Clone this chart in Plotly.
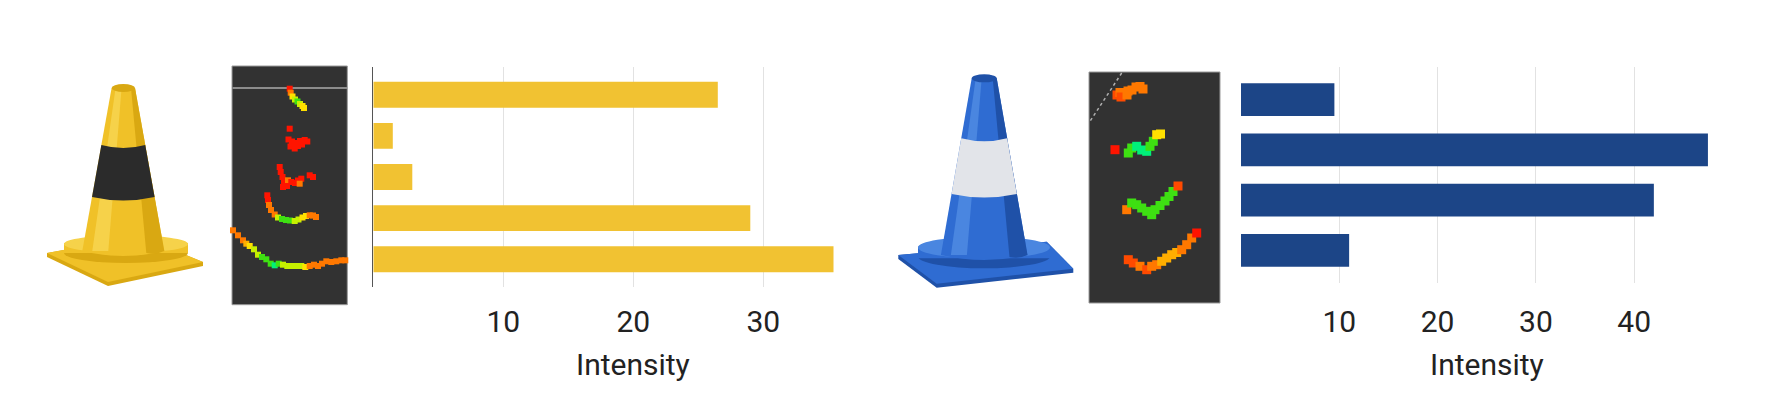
import plotly.graph_objects as go

# page is photographed at 1782x418; the body keeps its default 8px margin
PAGE_W = 1782
OX, OY = 8, 8
FIG_W = PAGE_W - 2 * OX
FIG_H = 384 - OY

# bar data
yellow_values = [26.5, 1.5, 3.0, 29.0, 35.4]
blue_values = [9.5, 47.5, 42.0, 11.0]
yellow_ticks = [10, 20, 30]
blue_ticks = [10, 20, 30, 40]
axis_title = "Intensity"

# radar point clouds (pixel coords of the page)
R, RO, O, YO, Y, YG, G, CG = ("#ff1400", "#ff4a00", "#ff7800", "#ffae00",
                              "#ffe000", "#c6f000", "#3ee012", "#00f07a")

yellow_radar_x = [289.7, 290.7, 292.5, 295, 297.5, 300, 302.5, 304,
                  289.7, 288.5, 292, 296, 300, 304.7, 307.3, 290.5, 294.7, 298, 302,
                  279.7, 280.7, 282.5, 284, 288, 291.3, 295, 298, 301.3, 309.7, 313, 283, 287, 299.7,
                  267.3, 268, 269, 271, 274.7, 278, 282, 286, 290, 294.7, 298.5, 302.5, 306, 309.7, 313, 316,
                  233, 238, 243, 246.3, 249.7, 254, 258, 262, 266.3, 270.7, 274.7, 278.7, 283, 287.3,
                  292, 296.7, 301.3, 305.3, 309.7, 314, 318, 322, 326.3, 331.3, 336.3, 341.3, 345.3]
yellow_radar_y = [88.7, 92.7, 96.5, 99.5, 101.5, 104, 106, 108,
                  128.7, 139.5, 141.5, 143, 141, 140, 141.5, 146.5, 148.5, 146, 144.5,
                  167, 172, 177, 182, 180.3, 182, 183, 180.5, 178.7, 175.3, 177, 187, 186, 183.7,
                  195.3, 200, 205, 210, 214.5, 217.5, 219, 220, 220.5, 221, 219.5, 217.5, 216, 215.3, 215.5, 217,
                  230.3, 235.3, 240.3, 243.7, 246, 249.3, 254.7, 257, 259.3, 263.7, 265.3, 263.7, 264.7, 266,
                  266, 266, 266, 267, 266, 264.7, 266, 263.7, 261.3, 262, 261.3, 260.3, 260.3]
yellow_radar_c = [R, O, Y, YG, G, YG, Y, Y,
                  R, R, R, R, R, R, R, R, R, R, R,
                  R, R, R, R, O, R, R, R, R, R, R, R, R, O,
                  R, R, O, O, O, YG, G, G, G, YG, YG, Y, Y, O, O, O,
                  O, O, O, YO, Y, YG, YG, G, G, G, CG, G, YG, YG,
                  YG, YG, YG, Y, O, O, O, O, O, O, O, O, O]

blue_radar_x = [1117, 1120, 1124, 1128, 1132, 1136, 1140, 1143, 1121, 1127,
                1115, 1128.3, 1131.7, 1136.7, 1141.7, 1146.7, 1150, 1153.3, 1156.7, 1160.5,
                1126.7, 1131.7, 1136.7, 1141.7, 1146.7, 1151.7, 1155, 1160, 1165, 1169, 1173, 1178,
                1128.3, 1133.3, 1140, 1146.7, 1151.7, 1156.7, 1161.7, 1166.7, 1171.7, 1176.7,
                1181.7, 1186.7, 1191.7, 1196.7]
blue_radar_y = [95, 92.5, 94, 91, 90, 87, 86.5, 89, 97, 95,
                149.7, 153, 148, 146.3, 150, 151.3, 146.3, 141.3, 134.7, 134,
                209.7, 203, 204.7, 208, 211.3, 214.7, 209.7, 205.5, 201, 196.5, 191.5, 186,
                259.7, 263, 266.3, 269.7, 266.3, 264.7, 261.3, 258, 254.7, 252.5,
                249.7, 244.7, 238, 233]
blue_radar_c = [RO, O, O, O, O, O, O, O, RO, O,
                R, G, G, CG, CG, CG, G, G, Y, Y,
                O, G, G, G, G, G, G, G, G, G, G, RO,
                RO, RO, O, RO, O, O, YO, YO, YO, YO,
                O, O, O, R]


def paper_x(gx):
    return (gx - OX) / FIG_W


def paper_y(gy):
    return 1 - (gy - OY) / FIG_H


fig = go.Figure()

fig.add_trace(go.Bar(x=yellow_values, y=list(range(len(yellow_values))), orientation="h",
                     marker=dict(color="#f1c232", line=dict(width=0)), width=0.63,
                     xaxis="x", yaxis="y", hoverinfo="x"))
fig.add_trace(go.Bar(x=blue_values, y=list(range(len(blue_values))), orientation="h",
                     marker=dict(color="#1c4587", line=dict(width=0)), width=0.65,
                     xaxis="x2", yaxis="y2", hoverinfo="x"))
fig.add_trace(go.Scatter(x=yellow_radar_x, y=yellow_radar_y, mode="markers",
                         marker=dict(symbol="square", size=6, color=yellow_radar_c, line=dict(width=0)),
                         xaxis="x3", yaxis="y3", hoverinfo="skip"))
fig.add_trace(go.Scatter(x=blue_radar_x, y=blue_radar_y, mode="markers",
                         marker=dict(symbol="square", size=9, color=blue_radar_c, line=dict(width=0)),
                         xaxis="x3", yaxis="y3", hoverinfo="skip"))

tick_font = dict(family="Roboto", size=30, color="#222222")
bar_x = dict(range=[0, 40], showgrid=True, gridcolor="#e2e2e2", gridwidth=1, zeroline=False,
             showline=False, ticks="", tickfont=tick_font, ticklabelstandoff=14, fixedrange=True)
bar_y = dict(showgrid=False, zeroline=False, showline=True, linecolor="#555555", linewidth=1,
             showticklabels=False, ticks="", fixedrange=True)

left_dom = [paper_x(373.3), paper_x(373.3 + 40 * 13.0)]
right_dom = [paper_x(1241), paper_x(1241 + 50 * 9.83)]

fig.update_layout(
    width=FIG_W, height=FIG_H, autosize=False,
    margin=dict(l=0, r=0, t=0, b=0),
    paper_bgcolor="white", plot_bgcolor="rgba(0,0,0,0)",
    showlegend=False, font=dict(family="Roboto"),
    xaxis=dict(bar_x, domain=left_dom, tickvals=yellow_ticks),
    yaxis=dict(bar_y, domain=[paper_y(287), paper_y(67)], range=[4.676, -0.676]),
    xaxis2=dict(bar_x, domain=right_dom, range=[0, 50], tickvals=blue_ticks),
    yaxis2=dict(bar_y, domain=[paper_y(283.3), paper_y(66.7)], range=[3.657, -0.657]),
    xaxis3=dict(domain=[0, 1], range=[OX, OX + FIG_W], visible=False, fixedrange=True),
    yaxis3=dict(domain=[0, 1], range=[OY + FIG_H, OY], visible=False, fixedrange=True),
)

# axis titles as annotations, placed low like in the cropped original
for dom in (left_dom, right_dom):
    fig.add_annotation(text=axis_title, xref="paper", yref="paper", x=(dom[0] + dom[1]) / 2,
                       y=paper_y(364), xanchor="center", yanchor="middle", showarrow=False,
                       font=tick_font)

shapes = []


def path(d, fill, line_color=None, width=0):
    shapes.append(dict(type="path", path=d, xref="x3", yref="y3", layer="below",
                       fillcolor=fill, line=dict(color=line_color or fill, width=width)))


def oval(x0, y0, x1, y1, fill):
    shapes.append(dict(type="circle", x0=x0, y0=y0, x1=x1, y1=y1, xref="x3", yref="y3",
                       layer="below", fillcolor=fill, line=dict(width=0)))


def cone(cx_top, top, bottom, half_top, half_bottom, band, base, ring, main, light, dark, band_col):
    # base plate
    b = base
    path("M %s,%s L %s,%s L %s,%s L %s,%s L %s,%s L %s,%s Z" % (
        b[0][0], b[0][1], b[1][0], b[1][1], b[2][0], b[2][1], b[2][0], b[2][1] + 4,
        b[3][0], b[3][1] + 4, b[0][0], b[0][1] + 4), dark)
    path("M %s,%s L %s,%s L %s,%s L %s,%s Z" % (
        b[0][0], b[0][1], b[1][0], b[1][1], b[2][0], b[2][1], b[3][0], b[3][1]), main)
    # ring around the foot
    rx0, rx1, ry0, ry1 = ring
    oval(rx0, ry0 + 8, rx1, ry1, dark)
    shapes.append(dict(type="rect", x0=rx0, x1=rx1, y0=(ry0 + ry1) / 2 - 6, y1=ry1 - 10,
                       xref="x3", yref="y3", layer="below", fillcolor=main, line=dict(width=0)))
    oval(rx0, ry0, rx1, ry1 - 10, light)
    # body
    lt, rt = cx_top - half_top, cx_top + half_top
    lb, rb = cx_top - half_bottom, cx_top + half_bottom
    path("M %s,%s L %s,%s L %s,%s Q %s,%s %s,%s Z" % (lt, top, rt, top, rb, bottom,
                                                    cx_top, bottom + 10, lb, bottom), main)
    path("M %s,%s L %s,%s L %s,%s Q %s,%s %s,%s Z" % (rt - 4, top, rt, top, rb, bottom,
                                                    rb - 8, bottom + 4, rb - 18, bottom + 2), dark)
    path("M %s,%s L %s,%s L %s,%s L %s,%s Z" % (lt + 4, top, lt + 10, top,
                                                lb + 26, bottom, lb + 10, bottom), light)

    def edge(y):
        f = (y - top) / (bottom - top)
        return lt + (lb - lt) * f, rt + (rb - rt) * f

    b0, b1 = band
    l0, r0 = edge(b0)
    l1, r1 = edge(b1)
    path("M %s,%s Q %s,%s %s,%s L %s,%s Q %s,%s %s,%s Z" % (
        l0, b0, cx_top, b0 + 6, r0, b0, r1, b1, cx_top, b1 + 7, l1, b1), band_col)
    oval(lt, top - 4, rt, top + 4, dark)


cone(123.3, 88, 251, 11.7, 41, (145, 197), [(47, 253), (140, 236), (203, 262), (108, 282)],
     (64, 188, 235, 263), "#f0c128", "#f6d24a", "#d9a812", "#2b2b2b")
cone(984.2, 78.3, 255, 12.5, 43.3, (138.3, 194), [(898.3, 255), (1046.7, 241.7), (1073.3, 268.7),
                                                   (936.7, 283.7)],
     (918, 1050, 236.7, 268.3), "#2f6cd2", "#4a86e0", "#1f51a8", "#e2e4e9")

# radar panels
shapes.append(dict(type="rect", x0=232, x1=347.3, y0=66, y1=304.7, xref="x3", yref="y3",
                   layer="below", fillcolor="#323232", line=dict(color="#9a9a9a", width=1)))
shapes.append(dict(type="line", x0=232.5, x1=347, y0=88, y1=88, xref="x3", yref="y3",
                   layer="below", line=dict(color="#8c8c8c", width=2)))
shapes.append(dict(type="rect", x0=1089, x1=1220, y0=72, y1=303, xref="x3", yref="y3",
                   layer="below", fillcolor="#323232", line=dict(color="#9a9a9a", width=1)))
shapes.append(dict(type="line", x0=1121.7, x1=1090, y0=73, y1=121.3, xref="x3", yref="y3",
                   layer="below", line=dict(color="#b0b0b0", width=1.5, dash="dot")))

fig.update_layout(shapes=shapes)

fig.write_html("out.html")
